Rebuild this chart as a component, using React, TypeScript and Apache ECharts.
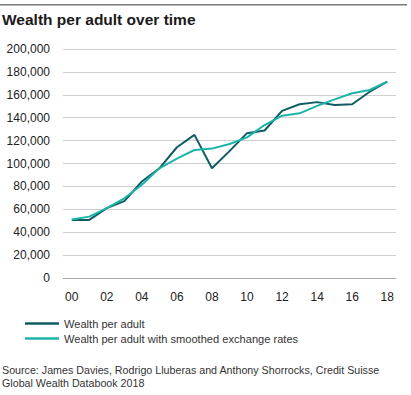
import React, { useEffect, useRef } from "react";
import * as echarts from "echarts";

const years = ["00","01","02","03","04","05","06","07","08","09","10","11","12","13","14","15","16","17","18"];
const xLabels = ["00","","02","","04","","06","","08","","10","","12","","14","","16","","18"];
const wealth = [50600, 50700, 61000, 67200, 84300, 95800, 114200, 125000, 95800, 110800, 126500, 128800, 146000, 151700, 153600, 151100, 151700, 162700, 171500];
const wealthSmoothed = [51000, 53600, 61000, 69600, 81500, 95800, 104300, 111800, 113000, 117000, 122800, 133600, 141800, 143800, 150300, 156000, 161300, 164200, 171500];
const yTicks = [0, 20000, 40000, 60000, 80000, 100000, 120000, 140000, 160000, 180000, 200000];
const title = "Wealth per adult over time";
const seriesNames = ["Wealth per adult", "Wealth per adult with smoothed exchange rates"];
const sourceLines = ["Source: James Davies, Rodrigo Lluberas and Anthony Shorrocks, Credit Suisse", "Global Wealth Databook 2018"];

const FONT = "'Liberation Sans', Arial, Helvetica, sans-serif";
const DARK = "#0f5c64";
const LIGHT = "#1cb4a9";

export default function App() {
  const ref = useRef<HTMLDivElement>(null);
  useEffect(() => {
    if (!ref.current) return;
    const chart = echarts.init(ref.current, undefined, { renderer: "svg" });
    chart.setOption({
      animation: false,
      backgroundColor: "#ffffff",
      textStyle: { fontFamily: FONT },
      graphic: [
        { type: "rect", shape: { x: 0, y: 4, width: 407, height: 1.5 }, style: { fill: "#7a7a7a" } },
        { type: "text", x: 2, y: 11, style: { text: title, fontFamily: FONT, fontSize: 15.5, fontWeight: "bold", fill: "#1a1a1a", textAlign: "left", textVerticalAlign: "top" } },
        { type: "text", x: 2, y: 364, style: { text: sourceLines.join("\n"), fontFamily: FONT, fontSize: 10.7, lineHeight: 12.5, fill: "#333333", textAlign: "left", textVerticalAlign: "top" } },
      ],
      grid: { left: 63, right: 15, top: 49, bottom: 117, containLabel: false },
      legend: {
        orient: "vertical",
        left: 25,
        top: 318,
        padding: 0,
        icon: "rect",
        itemWidth: 34,
        itemHeight: 2.5,
        itemGap: 4,
        textStyle: { fontFamily: FONT, fontSize: 11.1, color: "#333333" },
        data: seriesNames,
      },
      xAxis: {
        type: "category",
        data: years,
        boundaryGap: true,
        axisLine: { show: true, lineStyle: { color: "#aaaaaa", width: 1 } },
        axisTick: { show: false },
        axisLabel: {
          interval: 0,
          color: "#222222",
          fontFamily: FONT,
          fontSize: 12,
          margin: 13,
          formatter: (_v: string, i: number) => xLabels[i],
        },
      },
      yAxis: {
        type: "value",
        min: yTicks[0],
        max: yTicks[yTicks.length - 1],
        interval: 20000,
        axisLine: { show: false },
        axisTick: { show: false },
        splitLine: { lineStyle: { color: "#d0d0d0", width: 1 } },
        axisLabel: {
          color: "#222222",
          fontFamily: FONT,
          fontSize: 12,
          margin: 13,
          formatter: (v: number) => v.toLocaleString("en-US"),
        },
      },
      series: [
        { name: seriesNames[0], type: "line", data: wealth, symbol: "none", lineStyle: { color: DARK, width: 2 }, itemStyle: { color: DARK } },
        { name: seriesNames[1], type: "line", data: wealthSmoothed, symbol: "none", lineStyle: { color: LIGHT, width: 2 }, itemStyle: { color: LIGHT } },
      ],
    });
    return () => chart.dispose();
  }, []);
  return <div ref={ref} style={{ position: "absolute", left: 0, top: 0, width: 411, height: 395 }} />;
}
